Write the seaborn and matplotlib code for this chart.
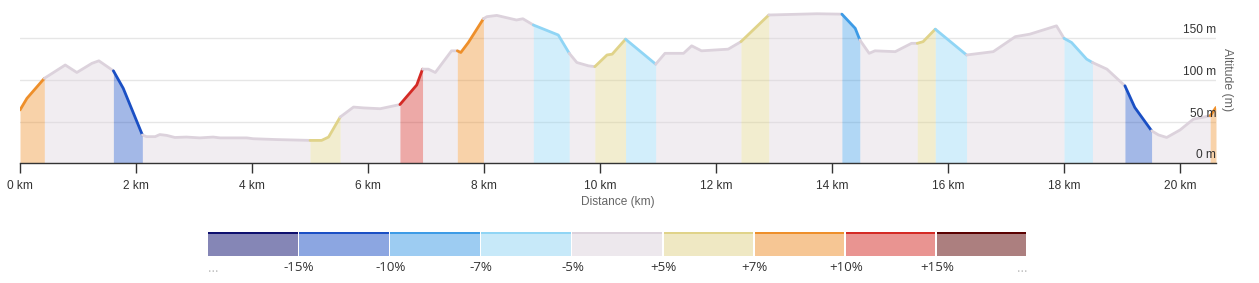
import numpy as np
import pandas as pd
import matplotlib
matplotlib.use("Agg")
import matplotlib.pyplot as plt
import matplotlib.transforms as mtrans
import seaborn as sns

# ---------------- data ----------------
distance_km = [0.00, 0.12, 0.42, 0.60, 0.78, 0.98, 1.24, 1.36, 1.61, 1.78,
               2.11, 2.18, 2.33, 2.41, 2.53, 2.67, 2.87, 3.10, 3.33, 3.45,
               3.91, 4.02, 4.42, 5.00, 5.20, 5.32, 5.52, 5.75, 5.92, 6.21,
               6.55, 6.84, 6.94, 7.04, 7.16, 7.44, 7.54, 7.60, 7.73, 7.99,
               8.05, 8.22, 8.56, 8.67, 8.85, 9.28, 9.47, 9.60, 9.80, 9.91,
               10.12, 10.21, 10.44, 10.96, 11.12, 11.44, 11.58, 11.75, 12.21, 12.43,
               12.91, 13.74, 14.17, 14.40, 14.48, 14.64, 14.74, 15.09, 15.37, 15.47,
               15.57, 15.78, 16.32, 16.78, 17.16, 17.41, 17.87, 18.00, 18.13, 18.39,
               18.49, 18.74, 19.05, 19.22, 19.51, 19.63, 19.77, 20.00, 20.23, 20.52,
               20.62]
altitude_m = [64, 78, 102, 110, 118, 109, 120, 123, 111, 90,
              34, 32, 32, 34.5, 33.5, 31, 31.5, 30.5, 31.5, 30.5,
              30.5, 29.5, 28.5, 27.5, 27.5, 31.5, 55.5, 67.5, 66.5, 65.5,
              70.5, 94, 113, 113, 109, 135, 135, 133, 145, 173.5,
              176, 177.5, 172, 173.5, 166, 154, 132, 121, 117, 116,
              130, 131, 149, 119, 132, 132, 141, 135, 137, 146,
              178, 179.5, 179, 162, 148, 132, 135, 134, 144, 144,
              146, 161, 130, 134, 152, 155, 165, 150, 145, 125,
              121, 113, 93, 67, 39, 34, 31, 40, 53, 57,
              67]

segment_bounds_km = [0, 0.42, 1.61, 2.11, 5.00, 5.52, 6.55, 6.94, 7.54, 7.99,
                     8.85, 9.47, 9.91, 10.44, 10.96, 12.43, 12.91, 14.17, 14.48,
                     15.47, 15.78, 16.32, 18.00, 18.49, 19.05, 19.51, 20.52, 20.62]
segment_class = [6, 4, 1, 4, 5, 4, 7, 4, 6, 4,
                 3, 4, 5, 3, 4, 5, 4, 2, 4, 5,
                 3, 4, 3, 4, 1, 4, 6]

grade_colors = ["#0d0f6e", "#1a4fc4", "#3d9be6", "#90d5f5", "#dcd2dc",
                "#e0d389", "#ee8f2a", "#d42a25", "#5a0000"]
legend_labels = ["-15%", "-10%", "-7%", "-5%", "+5%", "+7%", "+10%", "+15%"]

x_ticks = [0, 2, 4, 6, 8, 10, 12, 14, 16, 18, 20]
x_tick_labels = [f"{t} km" for t in x_ticks]
y_ticks = [0, 50, 100, 150]
y_tick_labels = [f"{t} m" for t in y_ticks]

# ---------------- style ----------------
sns.set_theme(style="white")
plt.rcParams["font.family"] = ["Liberation Sans", "DejaVu Sans"]

W, H = 1259, 283
fig = plt.figure(figsize=(W / 100, H / 100), dpi=100)

def px_axes(x0, y0, x1, y1):
    return fig.add_axes([x0 / W, 1 - y1 / H, (x1 - x0) / W, (y1 - y0) / H])

ax = px_axes(20, 10, 1216, 163.3)
df = pd.DataFrame({"d": distance_km, "alt": altitude_m})

for i, cls in enumerate(segment_class):
    lo, hi = segment_bounds_km[i], segment_bounds_km[i + 1]
    sub = df[(df["d"] >= lo - 1e-9) & (df["d"] <= hi + 1e-9)]
    col = grade_colors[cls]
    ax.fill_between(sub["d"], 0, sub["alt"], color=col, alpha=0.4, lw=0, zorder=1)
    sns.lineplot(data=sub, x="d", y="alt", ax=ax, color=col, lw=2.0,
                 estimator=None, sort=False, zorder=3)

ax.set_xlim(0, 20.62)
ax.set_ylim(0, 184)
ax.set_xticks(x_ticks)
ax.set_xticklabels(x_tick_labels)
ax.set_yticks(y_ticks)
ax.set_yticklabels([])
ax.tick_params(axis="y", length=0)
ax.tick_params(axis="x", direction="out", length=7.2, width=1, color="#333333",
               labelsize=8.6, labelcolor="#333333", pad=5.0, bottom=True)
ax.grid(axis="y", color="#e6e6e6", lw=1, zorder=0)
ax.set_axisbelow(True)
for s in ["left", "right", "top"]:
    ax.spines[s].set_visible(False)
ax.spines["bottom"].set_color("#333333")
ax.spines["bottom"].set_linewidth(1)
ax.spines["bottom"].set_zorder(5)

ax.set_xlabel("Distance (km)", fontsize=8.6, color="#666666", labelpad=2.5)
ax.set_ylabel("Altitude (m)", fontsize=8.8, color="#666666", rotation=270)
ax.yaxis.set_label_position("right")
ax.yaxis.set_label_coords(1.0095, 0.543)
ax.yaxis.label.set_verticalalignment("center")
ax.yaxis.label.set_horizontalalignment("center")

trans = mtrans.blended_transform_factory(ax.transAxes, ax.transData)
for t, lab in zip(y_ticks, y_tick_labels):
    ax.text(1.0, t + 2.5, lab, transform=trans, ha="right", va="bottom",
            fontsize=8.6, color="#333333", zorder=6)

# ---------------- legend ----------------
lax = px_axes(208, 231.7, 1028, 255.7)
n = len(grade_colors)
lx = np.arange(n)
lax.bar(lx, [1] * n, width=0.983, align="edge", color=grade_colors, alpha=0.5, lw=0)
lax.bar(lx, [0.1] * n, bottom=0.9, width=0.983, align="edge", color=grade_colors, lw=0)
lax.set_xlim(0, n)
lax.set_ylim(0, 1)
lax.axis("off")
for i, lab in enumerate(legend_labels):
    lax.text(i + 1, -0.5, lab, ha="center", va="center", fontsize=9.6,
             color="#333333", family=["Open Sans", "DejaVu Sans"])
lax.text(0, -0.55, "...", ha="left", va="center", fontsize=9.5, color="#bbbbbb",
         family=["Open Sans", "DejaVu Sans"])
lax.text(n, -0.55, "...", ha="right", va="center", fontsize=9.5, color="#bbbbbb",
         family=["Open Sans", "DejaVu Sans"])

fig.savefig("out.png", dpi=100)
